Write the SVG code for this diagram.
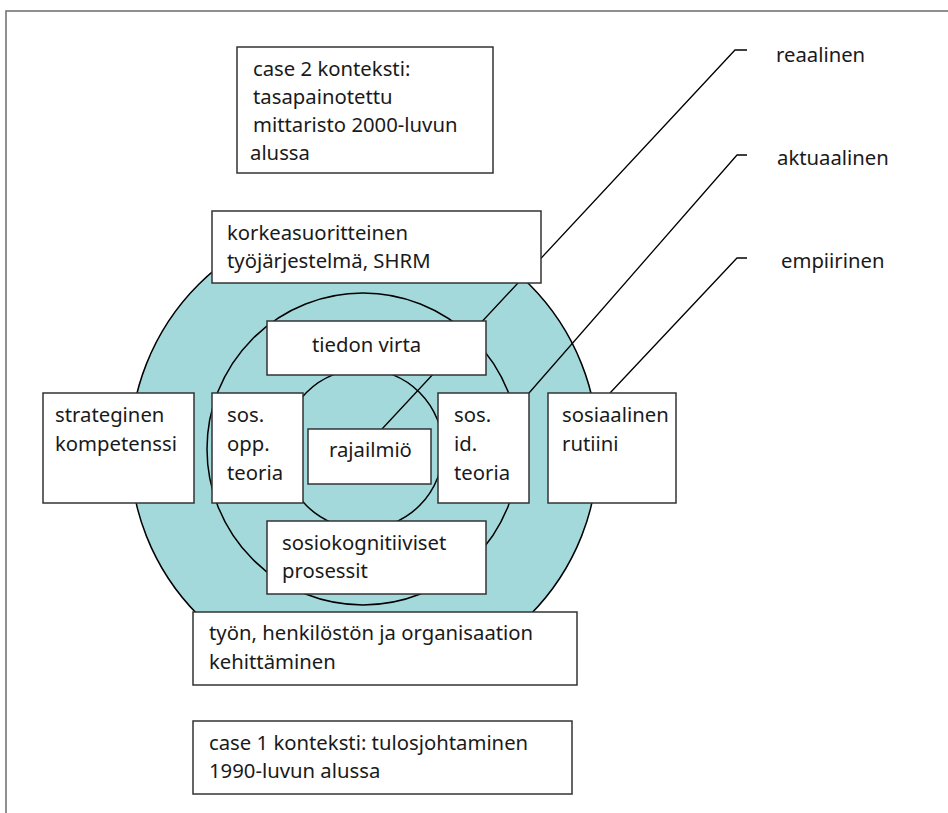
<svg xmlns="http://www.w3.org/2000/svg" width="948" height="813" viewBox="0 0 948 813">
  <style>
    .frame { stroke: #6b6b6b; stroke-width: 1.5; fill: none; }
    .ring { fill: #a4d9dc; stroke: #000; stroke-width: 1.5; }
    .box { fill: #fff; stroke: #333; stroke-width: 1.5; }
    .lead { stroke: #000; stroke-width: 1.3; fill: none; }
    text { font-family: "Noto Sans", "Open Sans", sans-serif; font-size: 20.3px; fill: #1a1a1a; }
  </style>

  <!-- page frame -->
  <path class="frame" d="M6,813 V11 H948"/>

  <!-- nested levels -->
  <g id="levels">
    <circle class="ring" cx="364" cy="450" r="234"/>
    <circle class="ring" cx="363" cy="449" r="156"/>
    <circle class="ring" cx="363" cy="449" r="80"/>
  </g>

  <!-- leader lines to the level labels -->
  <g id="connectors">
    <polyline class="lead" points="747,50 735,50 382,429"/>
    <polyline class="lead" points="747,155 737,155 529,393"/>
    <polyline class="lead" points="747,258 737,258 610,393"/>
  </g>

  <g id="case2">
    <rect class="box" x="237" y="47" width="256" height="126"/>
    <text x="253" y="76">case 2 konteksti:</text>
    <text x="253" y="104">tasapainotettu</text>
    <text x="253" y="132">mittaristo 2000-luvun</text>
    <text x="250" y="160">alussa</text>
  </g>

  <g id="korkeasuoritteinen">
    <rect class="box" x="212" y="211" width="329" height="72"/>
    <text x="227" y="240">korkeasuoritteinen</text>
    <text x="227" y="268">työjärjestelmä, SHRM</text>
  </g>

  <g id="tiedon-virta">
    <rect class="box" x="267" y="321" width="219" height="54"/>
    <text x="312" y="352">tiedon virta</text>
  </g>

  <g id="strateginen">
    <rect class="box" x="43" y="393" width="151" height="110"/>
    <text x="55" y="422">strateginen</text>
    <text x="55" y="451">kompetenssi</text>
  </g>

  <g id="sos-opp">
    <rect class="box" x="212" y="393" width="91" height="110"/>
    <text x="227" y="422">sos.</text>
    <text x="227" y="451">opp.</text>
    <text x="227" y="480">teoria</text>
  </g>

  <g id="rajailmio">
    <rect class="box" x="308" y="429" width="123" height="55"/>
    <text x="329" y="457">rajailmiö</text>
  </g>

  <g id="sos-id">
    <rect class="box" x="438" y="393" width="91" height="110"/>
    <text x="454" y="422">sos.</text>
    <text x="454" y="451">id.</text>
    <text x="454" y="480">teoria</text>
  </g>

  <g id="sosiaalinen-rutiini">
    <rect class="box" x="548" y="393" width="128" height="110"/>
    <text x="562" y="422">sosiaalinen</text>
    <text x="562" y="451">rutiini</text>
  </g>

  <g id="sosiokognitiiviset">
    <rect class="box" x="267" y="521" width="219" height="73"/>
    <text x="282" y="550">sosiokognitiiviset</text>
    <text x="282" y="578">prosessit</text>
  </g>

  <g id="kehittaminen">
    <rect class="box" x="193" y="612" width="384" height="73"/>
    <text x="209" y="640">työn, henkilöstön ja organisaation</text>
    <text x="209" y="669">kehittäminen</text>
  </g>

  <g id="case1">
    <rect class="box" x="193" y="721" width="379" height="73"/>
    <text x="209" y="750">case 1 konteksti: tulosjohtaminen</text>
    <text x="209" y="778">1990-luvun alussa</text>
  </g>

  <g id="reaalinen">
    <text x="776" y="62">reaalinen</text>
  </g>
  <g id="aktuaalinen">
    <text x="777" y="165">aktuaalinen</text>
  </g>
  <g id="empiirinen">
    <text x="781" y="268">empiirinen</text>
  </g>
</svg>
